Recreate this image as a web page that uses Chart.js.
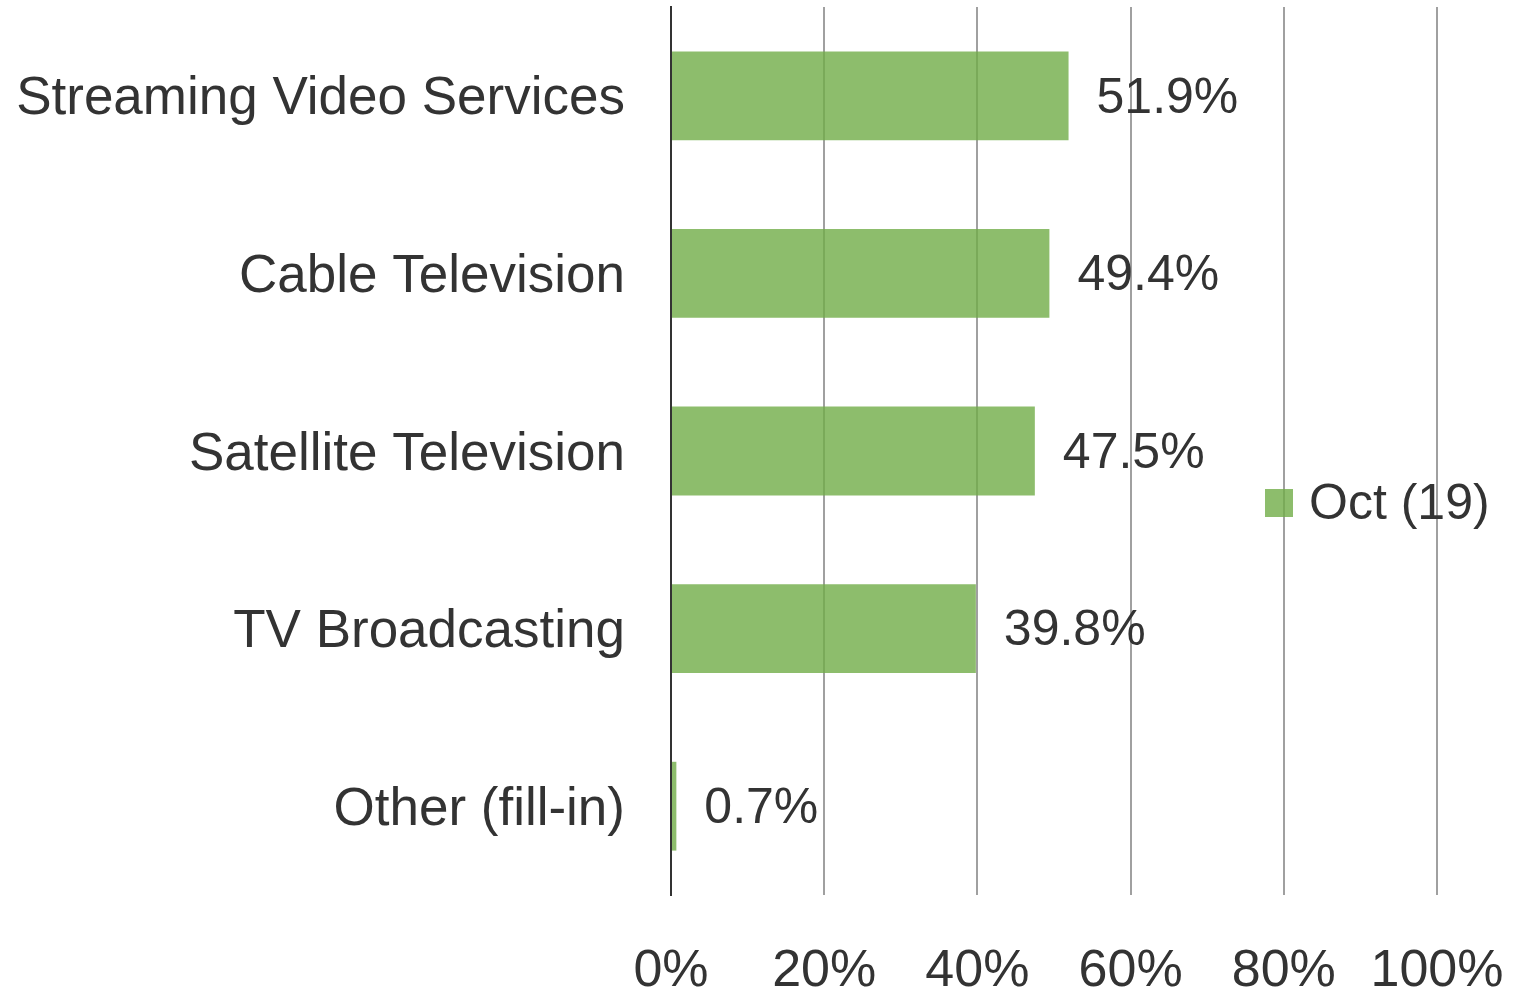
<!DOCTYPE html>
<html><head><meta charset="utf-8">
<script src="https://cdn.jsdelivr.net/npm/chart.js@4"></script>
<style>html,body{margin:0;padding:0;background:#fff;}#wrap{width:1528px;height:994px;}</style>
</head><body><div id="wrap"><canvas id="c" width="1528" height="994"></canvas></div>
<script>
const categories = ["Streaming Video Services","Cable Television","Satellite Television","TV Broadcasting","Other (fill-in)"];
const seriesLabel = "Oct (19)";
const values = [51.9, 49.4, 47.5, 39.8, 0.7];
const xTicks = [0, 20, 40, 60, 80, 100];

const FONT = "'Liberation Sans', Arial, sans-serif";
const barColor = "rgba(112,173,71,0.8)";

const dataLabels = {
  id: 'dataLabels',
  afterDatasetsDraw(chart) {
    const ctx = chart.ctx;
    const meta = chart.getDatasetMeta(0);
    ctx.save();
    ctx.font = "50px " + FONT;
    ctx.fillStyle = "#333333";
    ctx.textAlign = "left";
    ctx.textBaseline = "middle";
    meta.data.forEach((bar, i) => {
      ctx.fillText(values[i].toFixed(1) + "%", bar.x + 28, bar.y + 3);
    });
    ctx.restore();
  }
};
const customLegend = {
  id: 'customLegend',
  afterDraw(chart) {
    const ctx = chart.ctx;
    ctx.save();
    ctx.fillStyle = barColor;
    ctx.fillRect(1265, 489, 28, 28);
    ctx.font = "50px " + FONT;
    ctx.fillStyle = "#333333";
    ctx.textAlign = "left";
    ctx.textBaseline = "middle";
    ctx.fillText(chart.data.datasets[0].label, 1309, 505);
    ctx.restore();
  }
};

new Chart(document.getElementById('c'), {
  type: 'bar',
  data: {
    labels: categories,
    datasets: [{ label: seriesLabel, data: values, backgroundColor: barColor, borderWidth: 0,
      barPercentage: 0.5, categoryPercentage: 1.0 }]
  },
  options: {
    indexAxis: 'y',
    responsive: false,
    animation: false,
    layout: { padding: { top: 7, right: 91, left: 0, bottom: 0 } },
    plugins: { legend: { display: false }, tooltip: { enabled: false } },
    scales: {
      x: {
        min: 0, max: 100,
        afterBuildTicks: s => { s.ticks = xTicks.map(v => ({ value: v })); },
        afterFit: s => { s.height = 99; s.paddingLeft = 0; s.paddingRight = 0; },
        grid: { color: "#a0a0a0", lineWidth: 2, drawTicks: false },
        border: { display: false },
        ticks: { font: { family: FONT, size: 52 }, color: "#333333", padding: 45,
          maxRotation: 0, autoSkip: false,
          callback: v => v + "%" }
      },
      y: {
        afterFit: s => { s.width = 671; s.paddingTop = 0; s.paddingBottom = 0; },
        grid: { display: false, drawTicks: false },
        border: { display: true, color: "#333333", width: 2 },
        ticks: { font: { family: FONT, size: 53 }, color: "#333333", padding: 46, labelOffset: 4 }
      }
    }
  },
  plugins: [dataLabels, customLegend]
});
</script></body></html>
